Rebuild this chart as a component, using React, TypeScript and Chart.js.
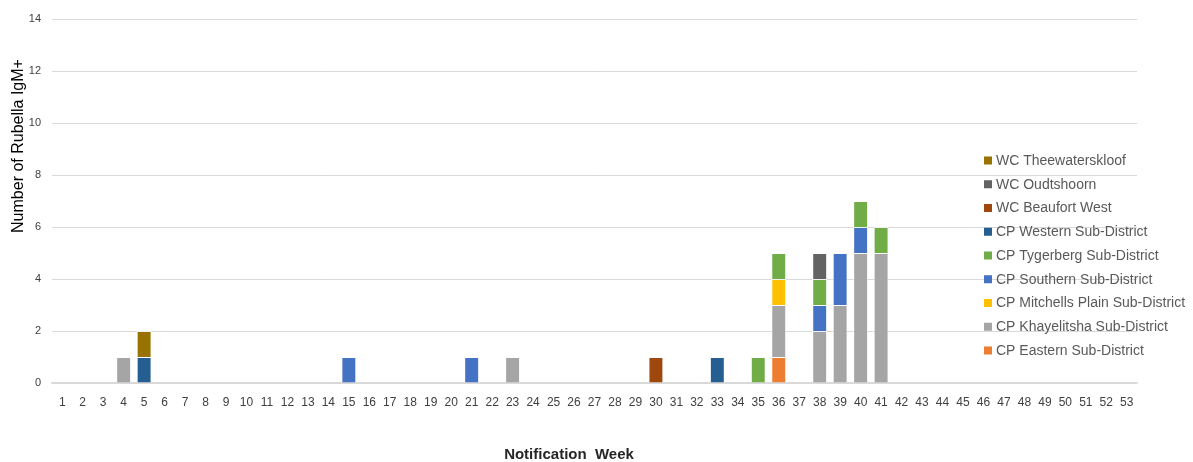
import React, { useEffect, useRef } from "react";
import { Chart, registerables } from "chart.js";

Chart.register(...registerables);

const weeks: string[] = Array.from({ length: 53 }, (_, i) => String(i + 1));

// values per week (1..53), index = week - 1
function series(entries: [number, number][]): number[] {
  const arr = new Array(53).fill(0);
  for (const [w, v] of entries) arr[w - 1] = v;
  return arr;
}

const cpEastern = series([[36, 1]]);
const cpKhayelitsha = series([[4, 1], [23, 1], [36, 2], [38, 2], [39, 3], [40, 5], [41, 5]]);
const cpMitchellsPlain = series([[36, 1]]);
const cpSouthern = series([[15, 1], [21, 1], [38, 1], [39, 2], [40, 1]]);
const cpTygerberg = series([[35, 1], [36, 1], [38, 1], [40, 1], [41, 1]]);
const cpWestern = series([[5, 1], [33, 1]]);
const wcBeaufortWest = series([[30, 1]]);
const wcOudtshoorn = series([[38, 1]]);
const wcTheewaterskloof = series([[5, 1]]);

const seriesNames = [
  "CP Eastern Sub-District",
  "CP Khayelitsha Sub-District",
  "CP Mitchells Plain Sub-District",
  "CP Southern Sub-District",
  "CP Tygerberg Sub-District",
  "CP Western Sub-District",
  "WC Beaufort West",
  "WC Oudtshoorn",
  "WC Theewaterskloof",
];
const seriesData = [
  cpEastern,
  cpKhayelitsha,
  cpMitchellsPlain,
  cpSouthern,
  cpTygerberg,
  cpWestern,
  wcBeaufortWest,
  wcOudtshoorn,
  wcTheewaterskloof,
];
const seriesColors = [
  "#ED7D31",
  "#A5A5A5",
  "#FFC000",
  "#4472C4",
  "#70AD47",
  "#255E91",
  "#9E480E",
  "#636363",
  "#997300",
];

const yTicks = [0, 2, 4, 6, 8, 10, 12, 14];
const yTitle = "Number of Rubella IgM+";
const xTitle = "Notification  Week";

const FONT = "'Liberation Sans', Arial, sans-serif";

const overlayPlugin = {
  id: "overlay",
  afterDraw(chart: any) {
    const ctx = chart.ctx as CanvasRenderingContext2D;
    ctx.save();
    // legend (reversed order)
    ctx.font = `14px ${FONT}`;
    ctx.textBaseline = "middle";
    ctx.textAlign = "left";
    const n = seriesNames.length;
    for (let i = 0; i < n; i++) {
      const idx = n - 1 - i;
      const y = 160.5 + i * 23.75;
      ctx.fillStyle = seriesColors[idx];
      ctx.fillRect(984, y - 4, 8, 8);
      ctx.fillStyle = "#595959";
      ctx.fillText(seriesNames[idx], 996, y + 0.5);
    }
    // y title
    ctx.save();
    ctx.translate(18.5, 146);
    ctx.rotate(-Math.PI / 2);
    ctx.textAlign = "center";
    ctx.textBaseline = "middle";
    ctx.fillStyle = "#000000";
    ctx.font = `16px ${FONT}`;
    ctx.fillText(yTitle, 0, 0);
    ctx.restore();
    // x title
    ctx.textAlign = "center";
    ctx.textBaseline = "middle";
    ctx.fillStyle = "#262626";
    ctx.font = `bold 15px ${FONT}`;
    ctx.fillText(xTitle, 569, 455);
    ctx.restore();
  },
};

export default function App() {
  const ref = useRef<HTMLCanvasElement | null>(null);
  useEffect(() => {
    document.body.style.margin = "0";
    if (!ref.current) return;
    const chart = new Chart(ref.current, {
      type: "bar",
      data: {
        labels: weeks,
        datasets: seriesNames.map((name, i) => ({
          label: name,
          data: seriesData[i],
          backgroundColor: seriesColors[i],
          borderColor: "rgba(255,255,255,0.6)",
          borderWidth: 1,
          categoryPercentage: 0.73,
          barPercentage: 1,
        })),
      },
      options: {
        animation: false,
        responsive: true,
        maintainAspectRatio: false,
        layout: { padding: { top: 19, right: 56, left: 0, bottom: 0 } },
        plugins: {
          legend: { display: false },
          tooltip: { enabled: false },
        },
        scales: {
          x: {
            stacked: true,
            grid: { display: false, drawTicks: false },
            border: { display: true, color: "#D9D9D9", width: 1.5 },
            ticks: {
              padding: 12,
              color: "#404040",
              font: { family: FONT, size: 12 },
              maxRotation: 0,
              autoSkip: false,
            },
            afterFit(scale: any) {
              scale.height = 79;
            },
          },
          y: {
            stacked: true,
            min: 0,
            max: 14,
            afterBuildTicks(scale: any) {
              scale.ticks = yTicks.map((v) => ({ value: v }));
            },
            grid: { color: "#D9D9D9", drawTicks: false },
            border: { display: false },
            ticks: {
              padding: 11,
              color: "#404040",
              font: { family: FONT, size: 11 },
            },
            afterFit(scale: any) {
              scale.width = 52;
            },
          },
        },
      },
      plugins: [overlayPlugin],
    });
    return () => chart.destroy();
  }, []);
  return (
    <div style={{ width: 1193, height: 462, position: "relative" }}>
      <canvas ref={ref} />
    </div>
  );
}
